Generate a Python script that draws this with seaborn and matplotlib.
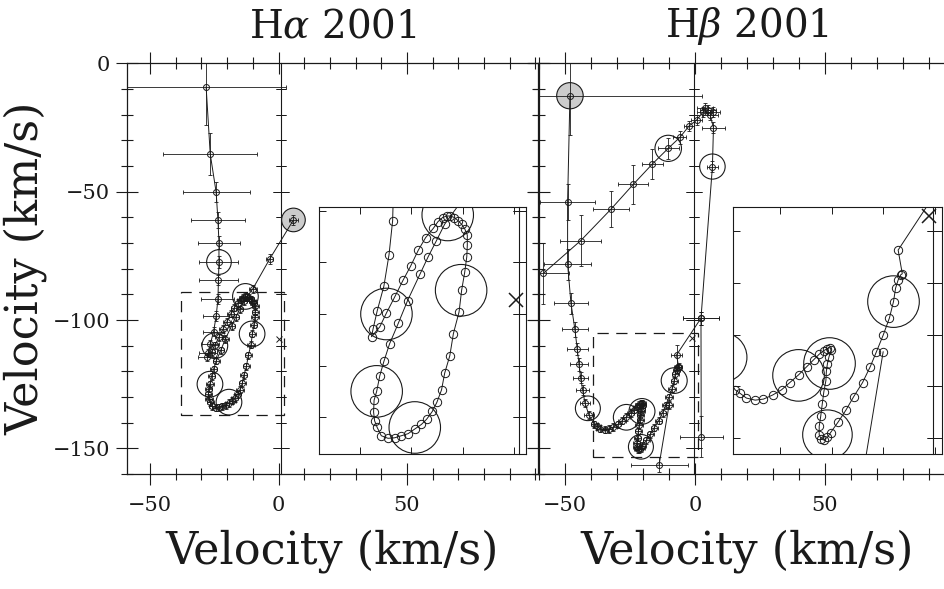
import numpy as np
import pandas as pd
import matplotlib
matplotlib.use("Agg")
import matplotlib.pyplot as plt
from matplotlib.patches import Circle, Rectangle
from matplotlib.ticker import MultipleLocator, FixedLocator, NullLocator
import seaborn as sns

# ---------------- H-alpha 2001 track (km/s) ----------------
HA_X = [-28.2, -26.6, -24.3, -23.6, -23.2, -23.2, -23.4, -23.6, -24.3, -25.3, -26.6, -27.4, -27.7,
        -26.1, -24.8, -23.2, -21.6, -20.1, -18.6, -17.2, -15.7, -14.8, -13.9,
        -13.1, -12.4, -11.6, -10.9, -10.2, -9.6, -9.1, -9.1, -9.2, -9.6,
        -10.2, -10.7, -11.8, -12.5, -13.5, -14.1, -15.0, -15.9, -17.0, -18.0,
        -19.3, -20.6, -21.9, -23.2, -24.5, -25.8, -26.6, -27.1, -27.3, -27.2,
        -26.7, -26.1, -25.3, -24.2, -22.5, -20.7, -18.3, -16.7, -15.1, -13.5,
        -10.0, -3.5, 5.8]
HA_Y = [-9.1, -35.3, -50.2, -61.0, -69.8, -77.4, -84.4, -91.9, -98.5, -104.6, -109.4, -112.9, -114.4,
        -112.5, -109.8, -106.7, -103.5, -100.7, -97.6, -95.2, -93.4, -92.1, -91.3,
        -91.0, -91.0, -91.3, -91.9, -92.6, -93.5, -94.7, -96.7, -98.9, -101.9,
        -105.4, -109.6, -113.8, -118.1, -121.5, -124.7, -127.1, -128.9, -130.4, -131.4,
        -132.3, -133.2, -133.6, -134.0, -134.1, -133.6, -132.0, -130.7, -129.0, -126.7,
        -125.0, -122.0, -119.2, -115.8, -111.8, -107.4, -102.3, -98.9, -95.8, -92.6,
        -87.8, -76.3, -61.0]
HA_XERR = [31.2, 18.2, 13.0, 10.5, 8.2, 7.6, 7.7, 6.4, 5.0, 4.0, 3.5, 3.5, 3.5,
           1.4, 1.4, 1.4, 1.4, 1.4, 1.4, 1.4, 1.4, 1.4, 1.4,
           1.4, 1.4, 1.4, 1.4, 1.4, 1.4, 1.4, 1.4, 1.4, 1.4,
           1.4, 1.4, 1.4, 1.4, 1.4, 1.4, 1.4, 1.4, 1.4, 1.4,
           1.4, 1.4, 1.4, 1.4, 1.4, 1.4, 1.4, 1.4, 1.4, 1.4,
           1.4, 1.4, 1.4, 1.4, 1.4, 1.4, 1.4, 1.4, 1.4, 1.4,
           1.5, 1.5, 1.8]
HA_YERR = [15.0, 8.0, 4.0, 3.0, 2.5, 2.5, 2.0, 2.0, 2.0, 1.8, 1.5, 1.5, 1.5,
           1.4, 1.4, 1.4, 1.4, 1.4, 1.4, 1.4, 1.4, 1.4, 1.4,
           1.4, 1.4, 1.4, 1.4, 1.4, 1.4, 1.4, 1.4, 1.4, 1.4,
           1.4, 1.4, 1.4, 1.4, 1.4, 1.4, 1.4, 1.4, 1.4, 1.4,
           1.4, 1.4, 1.4, 1.4, 1.4, 1.4, 1.4, 1.4, 1.4, 1.4,
           1.4, 1.4, 1.4, 1.4, 1.4, 1.4, 1.4, 1.4, 1.4, 1.4,
           1.5, 2.0, 2.0]
HA_SEG = [0] * len(HA_X)

# large error circles (x, y, radius), shaded flag
HA_CX = [-23.2, 5.8, -24.8, -10.3, -26.7, -19.3, -12.9]
HA_CY = [-77.4, -61.0, -110.0, -105.4, -125.0, -132.0, -90.8]
HA_CR = [4.8, 4.6, 5.0, 5.0, 5.0, 5.0, 5.0]
HA_CSHADE = [False, True, False, False, False, False, False]
HA_STAR = (0.3, -107.2)
HA_ZERO = 1.0
HA_BOX = (-37.9, 2.3, -137.2, -89.2)

# ---------------- H-beta 2001 track (km/s) ----------------
HB_X = [-48.1, -49.0, -49.0, -47.7, -46.2, -45.3, -44.6, -44.0, -43.2, -42.3, -40.8,
        -38.7, -37.7, -36.5, -34.8, -33.2, -31.4, -29.7, -28.1, -26.4, -24.8,
        -23.5, -22.4, -21.5, -20.8, -20.3, -20.1, -20.5, -20.8, -21.0, -21.1,
        -21.5, -21.8, -22.1, -22.4, -22.4, -22.0, -21.5, -20.8, -20.2, -18.7,
        -17.2, -15.7, -14.0, -12.5, -11.3, -10.0, -8.8, -8.0, -7.6, -7.1,
        -6.6, -6.3, -7.1, 2.3, 6.7, 7.1, 5.8, 7.1, 5.1, 3.8,
        3.2, 0.6, -2.3, -5.8, -10.3, -16.4, -23.7, -32.4, -44.0, -58.3,
        -13.8, -10.0,
        2.3, 2.4]
HB_Y = [-12.6, -53.9, -78.3, -93.5, -103.6, -111.3, -117.3, -122.4, -127.3, -132.4, -137.0,
        -140.7, -141.4, -142.3, -142.7, -142.5, -141.7, -140.7, -139.3, -137.8, -136.2,
        -134.9, -133.8, -133.1, -132.7, -132.5, -133.0, -134.3, -135.6, -137.0, -138.9,
        -141.1, -143.4, -145.8, -147.8, -149.4, -150.3, -150.4, -149.9, -149.0, -146.9,
        -144.6, -142.0, -139.3, -136.2, -133.3, -130.1, -126.8, -123.6, -121.0, -119.4,
        -118.4, -118.2, -113.6, -99.3, -40.2, -25.0, -20.1, -18.8, -18.2, -17.5,
        -18.8, -22.1, -24.4, -28.8, -33.1, -39.2, -47.1, -56.9, -69.1, -81.8,
        -156.4, -133.3,
        -99.3, -145.4]
HB_XERR = [50.7, 10.5, 9.0, 6.7, 5.0, 4.0, 3.5, 3.0, 2.5, 2.0, 1.8,
           1.4, 1.4, 1.4, 1.4, 1.4, 1.4, 1.4, 1.4, 1.4, 1.4,
           1.4, 1.4, 1.4, 1.4, 1.4, 1.4, 1.4, 1.4, 1.4, 1.4,
           1.4, 1.4, 1.4, 1.4, 1.4, 1.4, 1.4, 1.4, 1.4, 1.4,
           1.4, 1.4, 1.4, 1.4, 1.4, 1.4, 1.4, 1.4, 1.4, 1.4,
           1.4, 1.4, 2.0, 7.0, 2.0, 4.5, 3.0, 2.5, 3.0, 3.0,
           2.5, 2.0, 2.0, 2.5, 4.0, 4.0, 5.8, 7.0, 8.0, 9.7,
           11.0, 1.4,
           7.0, 8.3]
HB_YERR = [15.3, 7.0, 6.0, 4.0, 3.0, 2.5, 2.5, 2.0, 2.0, 1.5, 1.5,
           1.4, 1.4, 1.4, 1.4, 1.4, 1.4, 1.4, 1.4, 1.4, 1.4,
           1.4, 1.4, 1.4, 1.4, 1.4, 1.4, 1.4, 1.4, 1.4, 1.4,
           1.4, 1.4, 1.4, 1.4, 1.4, 1.4, 1.4, 1.4, 1.4, 1.4,
           1.4, 1.4, 1.4, 1.4, 1.4, 1.4, 1.4, 1.4, 1.4, 1.4,
           1.4, 1.4, 4.0, 2.5, 2.0, 2.0, 2.0, 2.0, 2.0, 2.0,
           2.0, 2.0, 2.0, 2.5, 4.0, 6.0, 7.5, 7.0, 10.0, 12.0,
           3.0, 1.4,
           2.5, 8.0]
HB_SEG = [0] * 71 + [1, 1] + [2, 2]

HB_CX = [-48.1, 6.7, -10.3, -41.2, -26.4, -20.4, -20.8, -8.0]
HB_CY = [-12.6, -40.2, -33.1, -134.4, -137.9, -135.6, -149.4, -123.6]
HB_CR = [5.1, 4.9, 5.1, 4.8, 5.0, 5.0, 4.8, 5.0]
HB_CSHADE = [True, False, False, False, False, False, False, False]
HB_STAR = (-1.1, -107.0)
HB_ZERO = -0.3
HB_BOX = (-39.1, 1.3, -153.2, -105.2)

X_TICKS = [-50, 0, 50]
Y_TICKS = [0, -50, -100, -150]
TITLES = [r"H$\alpha$ 2001", r"H$\beta$ 2001"]
AXIS_LABEL = "Velocity (km/s)"

# ---------------- style ----------------
sns.set_theme(style="ticks", rc={"axes.edgecolor": "k", "xtick.color": "k", "ytick.color": "k",
                                 "text.color": "k", "axes.labelcolor": "k", "axes.linewidth": 0.9})
plt.rcParams["font.family"] = ["DejaVu Serif"]
plt.rcParams["mathtext.fontset"] = "dejavuserif"

ha = pd.DataFrame({"x": HA_X, "y": HA_Y, "xerr": HA_XERR, "yerr": HA_YERR, "seg": HA_SEG})
hb = pd.DataFrame({"x": HB_X, "y": HB_Y, "xerr": HB_XERR, "yerr": HB_YERR, "seg": HB_SEG})
ha_c = pd.DataFrame({"x": HA_CX, "y": HA_CY, "r": HA_CR, "shade": HA_CSHADE})
hb_c = pd.DataFrame({"x": HB_CX, "y": HB_CY, "r": HB_CR, "shade": HB_CSHADE})

W, H = 944.0, 589.0


def rect(x0, y0, x1, y1):
    return [x0 / W, 1 - y1 / H, (x1 - x0) / W, (y1 - y0) / H]


def draw_data(ax, df, circ, star, inset):
    for _, c in circ.iterrows():
        ax.add_patch(Circle((c.x, c.y), c.r, facecolor="0.8" if c.shade else "none",
                            edgecolor="k", lw=0.8, zorder=1))
    if not inset:
        ax.errorbar(df["x"], df["y"], xerr=df["xerr"], yerr=df["yerr"], fmt="none", ecolor="k",
                    elinewidth=0.6, capsize=1.6, capthick=0.6, zorder=2)
    sns.lineplot(data=df, x="x", y="y", units="seg", estimator=None, sort=False, color="k",
                 linewidth=0.7, marker="o", markersize=6.0 if inset else 4.3,
                 markerfacecolor="none", markeredgecolor="k", markeredgewidth=0.7,
                 ax=ax, legend=False, zorder=3)
    ax.plot([star[0]], [star[1]], marker="x", color="k", ms=10 if inset else 4,
            mew=1.1 if inset else 0.7, ls="none", zorder=4)
    ax.set_xlabel("")
    ax.set_ylabel("")


def zero_axis(ax, zero, xlim, major, minor, lmaj, lmin):
    loc = (zero - xlim[0]) / (xlim[1] - xlim[0])
    sec = ax.secondary_yaxis(loc)
    sec.yaxis.set_major_locator(MultipleLocator(major))
    sec.yaxis.set_minor_locator(MultipleLocator(minor) if minor else NullLocator())
    sec.tick_params(which="both", direction="inout", labelleft=False, labelright=False,
                    left=True, right=True, width=0.7)
    sec.tick_params(which="major", length=lmaj)
    sec.tick_params(which="minor", length=lmin)
    for s in sec.spines.values():
        s.set_linewidth(0.8)


fig = plt.figure(figsize=(9.44, 5.89), dpi=100)
YLIM = (-160, 0)
panels = [
    dict(df=ha, circ=ha_c, star=HA_STAR, zero=HA_ZERO, xlim=(-59, 101),
         pos=rect(127, 63.4, 538, 474), inset=rect(319, 206.7, 526, 454.3), box=HA_BOX),
    dict(df=hb, circ=hb_c, star=HB_STAR, zero=HB_ZERO, xlim=(-60, 100),
         pos=rect(539, 63.4, 955, 474), inset=rect(733, 206.7, 941.5, 454.3), box=HB_BOX),
]

for i, p in enumerate(panels):
    ax = fig.add_axes(p["pos"])
    draw_data(ax, p["df"], p["circ"], p["star"], inset=False)
    b = p["box"]
    ax.add_patch(Rectangle((b[0], b[2]), b[1] - b[0], b[3] - b[2], fill=False, ec="k",
                           lw=0.9, ls=(0, (9, 6)), zorder=2))
    ax.set_xlim(p["xlim"])
    ax.set_ylim(YLIM)
    ax.xaxis.set_major_locator(FixedLocator(X_TICKS))
    ax.xaxis.set_minor_locator(MultipleLocator(10))
    ax.yaxis.set_major_locator(FixedLocator(Y_TICKS))
    ax.yaxis.set_minor_locator(MultipleLocator(10))
    ax.tick_params(which="both", direction="inout", top=True, right=True, bottom=True, left=True,
                   width=0.8, labelsize=15, labelleft=(i == 0))
    ax.tick_params(which="major", length=16)
    ax.tick_params(which="minor", length=8)
    ax.tick_params(axis="x", pad=8)
    ax.tick_params(axis="y", pad=4)
    zero_axis(ax, p["zero"], p["xlim"], 50, 10, 12, 7)
    ax.set_title(TITLES[i], fontsize=28, pad=19)
    ax.set_xlabel(AXIS_LABEL, fontsize=32, labelpad=10)
    if i == 0:
        ax.set_ylabel(AXIS_LABEL, fontsize=32, labelpad=4)

    ins = fig.add_axes(p["inset"])
    ins.set_facecolor("white")
    draw_data(ins, p["df"], p["circ"], p["star"], inset=True)
    ins.set_xlim(b[0], b[1])
    ins.set_ylim(b[2], b[3])
    ins.xaxis.set_major_locator(MultipleLocator(10))
    ins.yaxis.set_major_locator(MultipleLocator(10))
    ins.tick_params(which="both", direction="in", top=True, right=True, bottom=True, left=True,
                    length=5, width=0.7, labelbottom=False, labelleft=False)
    for s in ins.spines.values():
        s.set_linewidth(0.8)
    zero_axis(ins, p["zero"], (b[0], b[1]), 10, None, 9, 0)

fig.savefig("out.png", dpi=100)
